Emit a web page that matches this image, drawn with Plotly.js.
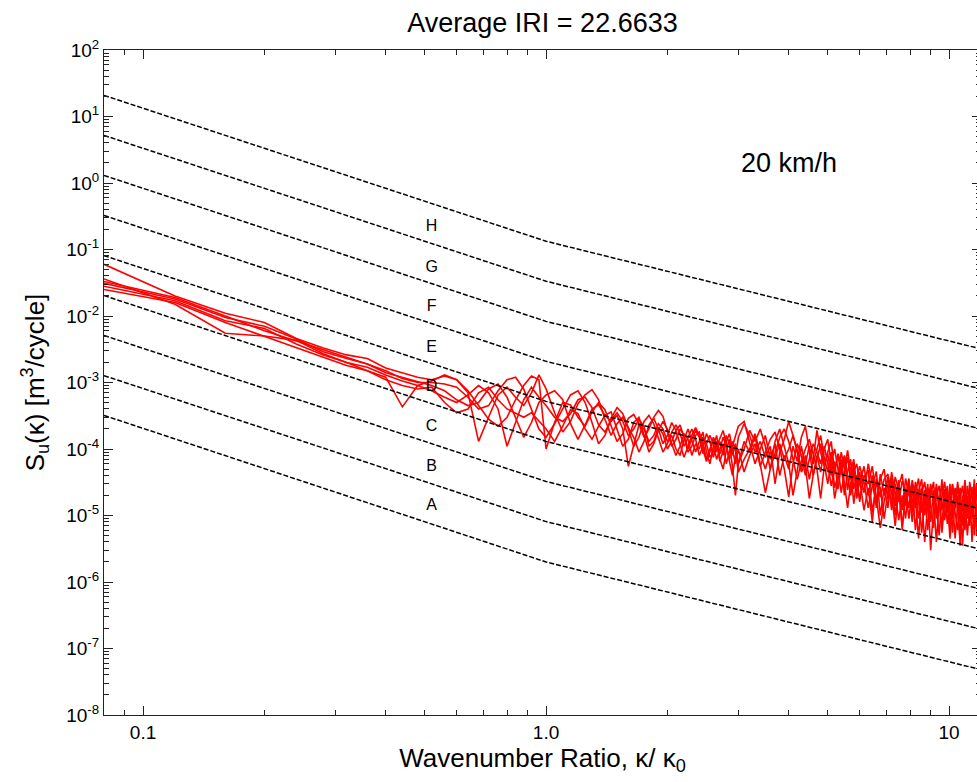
<!DOCTYPE html>
<html>
<head>
<meta charset="utf-8">
<script src="https://cdn.plot.ly/plotly-3.0.1.min.js"></script>
<style>
html,body{margin:0;padding:0;overflow:hidden;background:#fff;}
#chart{width:1001px;height:782px;}
</style>
</head>
<body>
<div id="chart"></div>
<script>
// ---------- data ----------
// wavenumber ratio grid shared by the measured spectra
const kappa = [0.08,0.12,0.16,0.20,0.24,0.28,0.32,0.36,0.40,0.44,0.48,0.52,0.56,0.60,0.64,0.68,0.72,0.76,0.80,0.84,0.88,0.92,0.96,
1.00,1.05,1.10,1.15,1.20,1.25,1.30,1.35,1.40,1.45,1.50,1.55,1.60,1.65,1.70,1.75,1.80,1.85,1.90,1.95,2.00,2.05,2.10,2.15,2.20,2.25,2.30,2.35,2.40,2.45,2.50,2.55,2.60,2.65,2.70,2.75,2.80,2.85,2.90,2.95,
3.0,3.1,3.2,3.3,3.4,3.5,3.6,3.7,3.8,3.9,4.0,4.1,4.2,4.3,4.4,4.5,4.6,4.7,4.8,4.9,5.0,5.1,5.2,5.3,5.4,5.5,5.6,5.7,5.8,5.9,
6.00,6.15,6.30,6.45,6.60,6.75,6.90,7.05,7.20,7.35,7.50,7.65,7.80,7.95,8.10,8.25,8.40,8.55,8.70,8.85,9.00,9.15,9.30,9.45,9.60,9.75,9.90,10.05,10.20,10.35,10.50,10.65,10.80,10.95,11.10,11.25,11.40,11.55,11.70,11.85,12.00];

const psd1 = [6.0e-2,2.0e-2,1.1e-2,8.0e-3,4.6e-3,3.3e-3,2.6e-3,2.3e-3,1.65e-3,1.4e-3,1.2e-3,1.1e-3,1.25e-3,1.1e-3,7.5e-4,4.5e-4,2.8e-4,2.2e-4,3.0e-4,5.5e-4,9.0e-4,1.25e-3,1.1e-3,
1.0e-4,2.5e-4,5.0e-4,4.6e-4,3.0e-4,2.2e-4,3.6e-4,5.0e-4,3.9e-4,2.2e-4,1.3e-4,1.7e-4,2.9e-4,3.3e-4,2.4e-4,1.5e-4,2.0e-4,3.0e-4,3.8e-4,3.1e-4,1.9e-4,1.1e-4,1.4e-4,2.0e-4,1.6e-4,1.0e-4,1.4e-4,1.9e-4,1.5e-4,8.5e-5,1.2e-4,1.6e-4,1.2e-4,7.0e-5,1.0e-4,1.5e-4,1.1e-4,6.5e-5,4.0e-5,7.5e-5,
1.5e-4,2.4e-4,1.6e-4,9.0e-5,1.3e-4,7.5e-5,1.1e-4,3.0e-5,9.0e-5,1.4e-4,2.6e-4,1.6e-4,9.5e-5,5.0e-5,8.0e-5,3.5e-5,7.0e-5,1.9e-4,9.0e-5,5.5e-5,8.5e-5,4.0e-5,6.5e-5,2.5e-5,5.5e-5,8.0e-5,4.0e-5,2.0e-5,4.5e-5,6.0e-5,
3.0e-5,5.5e-5,2.0e-5,4.0e-5,1.3e-5,3.5e-5,5.0e-5,1.8e-5,3.2e-5,1.0e-5,2.8e-5,4.2e-5,1.4e-5,2.6e-5,8.0e-6,2.2e-5,3.6e-5,1.1e-5,2.4e-5,6.0e-6,2.0e-5,3.2e-5,9.0e-6,1.9e-5,5.5e-6,1.6e-5,2.8e-5,8.0e-6,1.7e-5,4.5e-6,1.5e-5,2.6e-5,7.0e-6,1.6e-5,5.0e-6,1.4e-5,2.7e-5,6.5e-6,1.5e-5,4.0e-6,1.3e-5];

const psd2 = [3.6e-2,1.5e-2,5.5e-3,5.0e-3,4.3e-3,2.7e-3,2.0e-3,1.5e-3,1.2e-3,4.3e-4,9.0e-4,1.05e-3,1.3e-3,1.1e-3,7.0e-4,1.3e-4,3.0e-4,6.5e-4,8.5e-4,6.0e-4,4.5e-4,7.0e-4,1.3e-3,
8.0e-4,3.5e-4,1.8e-4,2.6e-4,4.8e-4,6.5e-4,7.8e-4,5.5e-4,2.8e-4,1.6e-4,2.4e-4,3.0e-4,2.0e-4,1.1e-4,1.5e-4,2.6e-4,3.2e-4,2.4e-4,1.4e-4,9.0e-5,1.2e-4,1.8e-4,2.3e-4,1.7e-4,1.1e-4,1.5e-4,2.0e-4,1.4e-4,8.0e-5,1.1e-4,1.7e-4,1.3e-4,7.5e-5,1.1e-4,1.5e-4,1.9e-4,1.2e-4,7.0e-5,1.1e-4,1.6e-4,
2.2e-4,2.6e-4,1.2e-4,6.0e-5,1.0e-4,1.6e-4,7.0e-5,1.2e-4,4.0e-5,8.0e-5,5.0e-5,1.1e-4,6.5e-5,1.5e-4,2.2e-4,9.0e-5,4.0e-5,7.0e-5,1.2e-4,6.0e-5,3.0e-5,6.5e-5,1.0e-4,5.0e-5,2.2e-5,4.5e-5,7.5e-5,3.5e-5,5.5e-5,2.0e-5,
4.5e-5,2.2e-5,6.0e-5,3.0e-5,1.5e-5,4.2e-5,2.0e-5,3.8e-5,1.2e-5,3.0e-5,1.6e-5,3.3e-5,2.4e-5,9.0e-6,2.5e-5,1.3e-5,2.3e-5,3.5e-5,1.0e-5,2.1e-5,1.4e-5,6.5e-6,2.0e-5,2.8e-5,1.2e-5,2.2e-5,7.5e-6,1.6e-5,2.9e-5,1.1e-5,6.0e-6,1.8e-5,2.8e-5,1.0e-5,2.0e-5,7.0e-6,1.5e-5,2.4e-5,9.0e-6,2.0e-5,3.0e-5];

const psd3 = [3.1e-2,1.8e-2,9.5e-3,7.0e-3,4.5e-3,2.9e-3,2.3e-3,1.9e-3,1.4e-3,1.2e-3,1.05e-3,9.0e-4,7.5e-4,5.5e-4,4.5e-4,5.0e-4,8.0e-4,9.5e-4,6.0e-4,3.0e-4,1.5e-4,2.5e-4,5.0e-4,
6.5e-4,7.5e-4,5.5e-4,2.4e-4,1.4e-4,2.3e-4,4.0e-4,4.6e-4,3.2e-4,2.6e-4,3.2e-4,2.0e-4,5.5e-5,1.2e-4,2.3e-4,2.0e-4,1.3e-4,1.6e-4,2.4e-4,2.0e-4,1.3e-4,1.6e-4,1.0e-4,8.0e-5,1.4e-4,2.0e-4,1.3e-4,9.0e-5,1.3e-4,1.8e-4,9.0e-5,6.0e-5,1.1e-4,1.6e-4,7.0e-5,5.0e-5,9.5e-5,1.4e-4,8.0e-5,1.2e-4,
6.0e-5,1.0e-4,1.9e-4,1.3e-4,2.0e-4,1.1e-4,5.0e-5,9.0e-5,1.5e-4,2.0e-4,1.3e-4,7.0e-5,3.5e-5,6.5e-5,1.0e-4,1.4e-4,8.0e-5,5.0e-5,1.8e-5,5.5e-5,9.0e-5,1.3e-4,4.5e-5,8.5e-5,6.0e-5,2.0e-5,4.5e-5,7.0e-5,2.5e-5,4.0e-5,
1.6e-5,3.8e-5,4.8e-5,1.1e-5,3.2e-5,1.9e-5,3.5e-5,4.2e-5,2.2e-5,7.0e-6,2.5e-5,1.2e-5,3.6e-5,2.0e-5,3.0e-5,6.0e-6,1.8e-5,2.6e-5,1.6e-5,3.0e-5,8.0e-6,2.4e-5,1.4e-5,5.0e-6,2.0e-5,3.2e-5,1.3e-5,2.3e-5,5.5e-6,1.9e-5,2.5e-5,8.0e-6,1.4e-5,3.4e-5,1.2e-5,2.5e-5,4.0e-6,1.7e-5,3.0e-5,1.1e-5,6.0e-6];

const psd4 = [2.8e-2,1.7e-2,8.5e-3,6.5e-3,3.8e-3,2.6e-3,2.0e-3,1.7e-3,1.3e-3,1.05e-3,9.0e-4,7.5e-4,6.0e-4,5.0e-4,6.5e-4,9.0e-4,7.0e-4,4.0e-4,1.1e-4,2.5e-4,5.5e-4,8.5e-4,6.0e-4,
4.5e-4,3.0e-4,2.6e-4,3.4e-4,5.5e-4,6.0e-4,4.2e-4,2.3e-4,1.8e-4,2.7e-4,3.5e-4,2.6e-4,1.6e-4,2.0e-4,2.8e-4,2.2e-4,1.1e-4,1.3e-4,2.1e-4,1.7e-4,1.0e-4,1.3e-4,1.9e-4,2.3e-4,1.5e-4,9.0e-5,1.1e-4,1.6e-4,1.8e-4,1.2e-4,7.0e-5,1.0e-4,1.4e-4,9.0e-5,1.3e-4,8.0e-5,1.3e-4,1.7e-4,1.0e-4,6.0e-5,
1.0e-4,4.5e-5,8.0e-5,1.2e-4,5.5e-5,9.0e-5,1.4e-4,1.8e-4,1.0e-4,5.0e-5,1.9e-5,6.0e-5,1.2e-4,8.0e-5,4.0e-5,7.0e-5,1.2e-4,9.0e-5,6.0e-5,1.1e-4,6.0e-5,2.8e-5,5.0e-5,8.0e-5,4.2e-5,7.5e-5,2.4e-5,5.0e-5,1.5e-5,3.5e-5,
5.5e-5,3.2e-5,1.3e-5,2.8e-5,4.6e-5,1.0e-5,2.6e-5,1.3e-5,4.5e-5,2.2e-5,8.5e-6,2.0e-5,9.0e-6,3.2e-5,1.5e-5,2.8e-5,9.0e-6,1.9e-5,4.0e-6,1.5e-5,3.0e-5,1.6e-5,2.6e-5,1.2e-5,3.5e-5,8.5e-6,1.8e-5,4.5e-6,1.3e-5,2.6e-5,1.2e-5,4.5e-6,2.0e-5,6.0e-6,2.8e-5,1.6e-5,9.0e-6,3.5e-5,5.0e-6,1.6e-5,2.2e-5];

const psd5 = [2.5e-2,1.6e-2,8.0e-3,5.0e-3,3.4e-3,2.4e-3,1.8e-3,1.5e-3,1.1e-3,9.0e-4,8.0e-4,8.5e-4,5.0e-4,3.5e-4,4.0e-4,7.0e-4,8.5e-4,5.5e-4,4.0e-4,3.5e-4,3.0e-4,3.5e-4,2.6e-4,
2.0e-4,1.3e-4,2.2e-4,3.9e-4,3.4e-4,2.0e-4,1.4e-4,2.2e-4,3.2e-4,3.6e-4,2.0e-4,1.1e-4,1.4e-4,2.5e-4,3.0e-4,1.7e-4,9.0e-5,1.2e-4,1.9e-4,2.6e-4,2.0e-4,1.2e-4,8.0e-5,1.1e-4,1.7e-4,1.4e-4,8.0e-5,1.2e-4,1.0e-4,1.5e-4,1.2e-4,7.5e-5,9.0e-5,1.3e-4,8.5e-5,1.2e-4,6.0e-5,9.0e-5,1.3e-4,9.5e-5,
4.5e-5,7.0e-5,1.0e-4,1.7e-4,8.5e-5,5.0e-5,9.0e-5,7.5e-5,1.2e-4,7.0e-5,1.0e-4,1.6e-4,9.0e-5,4.5e-5,6.0e-5,1.1e-4,6.0e-5,1.0e-4,1.6e-4,7.5e-5,4.5e-5,9.0e-5,2.6e-5,4.0e-5,9.0e-5,5.0e-5,9.5e-5,4.5e-5,7.0e-5,2.8e-5,
1.8e-5,4.0e-5,3.0e-5,5.5e-5,2.0e-5,6.5e-6,1.6e-5,3.0e-5,1.5e-5,3.8e-5,2.4e-5,7.0e-6,1.9e-5,3.6e-5,1.1e-5,3.2e-5,2.0e-5,5.5e-6,1.7e-5,2.6e-5,3.0e-6,1.3e-5,3.0e-5,1.5e-5,7.0e-6,2.5e-5,1.1e-5,3.0e-5,9.0e-6,1.4e-5,3.2e-5,1.5e-5,3.5e-6,2.2e-5,9.0e-6,3.2e-5,1.8e-5,5.0e-6,2.3e-5,3.5e-5,1.0e-5];

const psd6 = [3.3e-2,1.9e-2,1.0e-2,6.0e-3,4.2e-3,3.1e-3,2.4e-3,1.9e-3,1.5e-3,1.15e-3,1.0e-3,1.0e-3,9.5e-4,8.5e-4,6.0e-4,4.0e-4,4.5e-4,7.5e-4,1.1e-3,1.2e-3,8.0e-4,4.0e-4,2.0e-4,
1.5e-4,2.4e-4,4.0e-4,6.5e-4,7.5e-4,5.0e-4,2.5e-4,1.2e-4,1.6e-4,2.9e-4,4.2e-4,3.4e-4,2.1e-4,1.5e-4,9.0e-5,1.3e-4,2.3e-4,2.9e-4,2.0e-4,1.2e-4,1.6e-4,2.5e-4,1.9e-4,1.2e-4,7.5e-5,1.1e-4,1.6e-4,2.1e-4,1.6e-4,1.0e-4,6.5e-5,9.0e-5,1.5e-4,1.2e-4,6.5e-5,9.5e-5,1.6e-4,1.2e-4,5.5e-5,2.0e-5,
6.0e-5,1.3e-4,9.0e-5,1.6e-4,6.0e-5,2.2e-5,5.0e-5,1.3e-4,2.0e-4,1.1e-4,6.0e-5,2.0e-5,4.5e-5,1.1e-4,5.5e-5,1.8e-5,4.0e-5,8.0e-5,4.5e-5,1.0e-4,1.4e-4,6.0e-5,1.8e-5,3.5e-5,7.0e-5,3.0e-5,1.3e-5,3.0e-5,6.0e-5,1.8e-5,
3.5e-5,1.2e-5,2.6e-5,8.0e-6,3.6e-5,2.6e-5,9.0e-6,2.2e-5,3.8e-5,1.4e-5,3.4e-5,6.0e-6,2.5e-5,1.3e-5,3.4e-5,1.8e-5,4.5e-6,2.2e-5,3.2e-5,1.2e-5,2.6e-5,1.7e-5,4.0e-6,1.6e-5,3.0e-5,1.5e-5,2.4e-5,6.0e-6,3.0e-5,1.3e-5,2.0e-5,3.5e-6,1.6e-5,2.6e-5,9.0e-6,2.0e-5,1.2e-5,3.0e-5,7.0e-6,2.6e-5,1.5e-5];

// roughness class boundary lines (dashed): values at kappa = 0.08, 1 and 12
const boundaryKappa = [0.08, 1, 12];
const levelLeft  = [3.2e-4, 1.27e-3, 5.1e-3, 2.03e-2, 8.1e-2, 3.25e-1, 1.3, 5.2, 20.8];
const levelMid   = [2.0e-6, 8.1e-6, 3.25e-5, 1.3e-4, 5.2e-4, 2.08e-3, 8.3e-3, 3.33e-2, 1.33e-1];
const levelRight = [4.8e-8, 1.95e-7, 7.8e-7, 3.1e-6, 1.25e-5, 5.0e-5, 2.0e-4, 8.0e-4, 3.2e-3];

// class labels
const classNames = ['A','B','C','D','E','F','G','H'];
const classLabelKappa = 0.52;
const classLabelY = [1.40e-5, 5.4e-5, 2.16e-4, 8.65e-4, 3.33e-3, 1.37e-2, 5.3e-2, 2.15e-1];

// axis ticks
const xTickVals = [0.1, 1, 10];
const xTickText = ['0.1', '1.0', '10'];
const yTickVals = [1e-8,1e-7,1e-6,1e-5,1e-4,1e-3,1e-2,1e-1,1e0,1e1,1e2];
const yTickText = ['-8','-7','-6','-5','-4','-3','-2','-1','0','1','2'].map(function(p){return '10<sup>' + p + '</sup>';});

// minor tick positions (2..9 of every decade)
function minorTicks(lo, hi) {
  const out = [];
  for (let e = lo; e <= hi; e++) {
    for (let m = 2; m <= 9; m++) out.push(m * Math.pow(10, e));
  }
  return out;
}

// ---------- traces ----------
const FONT = '"Liberation Sans", Arial, Helvetica, sans-serif';
const traces = [];
[psd1, psd2, psd3, psd4, psd5, psd6].forEach(function(series){
  traces.push({
    type: 'scatter', mode: 'lines', x: kappa, y: series,
    line: {color: '#ff0000', width: 1.6}, hoverinfo: 'skip'
  });
});
for (let i = 0; i < levelMid.length; i++) {
  traces.push({
    type: 'scatter', mode: 'lines', x: boundaryKappa,
    y: [levelLeft[i], levelMid[i], levelRight[i]],
    line: {color: '#000', width: 1.5, dash: '5px,2px'}, hoverinfo: 'skip'
  });
}
traces.push({
  type: 'scatter', mode: 'text',
  x: classNames.map(function(){return classLabelKappa;}),
  y: classLabelY, text: classNames, textposition: 'middle center',
  textfont: {family: FONT, size: 16, color: '#000'}, hoverinfo: 'skip', cliponaxis: false
});

const axisCommon = {
  type: 'log', tickmode: 'array', ticks: 'inside', ticklen: 9, tickwidth: 1, tickcolor: '#222',
  showline: true, linecolor: '#222', linewidth: 1, mirror: 'ticks',
  showgrid: false, zeroline: false, automargin: false,
  tickfont: {family: FONT, size: 19, color: '#000'}
};

const layout = {
  width: 1001, height: 782,
  margin: {l: 104, r: 20, t: 50, b: 67, pad: 0},
  paper_bgcolor: '#fff', plot_bgcolor: '#fff',
  showlegend: false, hovermode: false,
  font: {family: FONT, color: '#000', size: 19},
  title: {text: 'Average IRI = 22.6633', font: {family: FONT, size: 27, color: '#000'},
          x: 0.5, xref: 'paper', xanchor: 'center', y: 0.971, yref: 'container', yanchor: 'middle'},
  xaxis: Object.assign({}, axisCommon, {
    range: [Math.log10(0.08), Math.log10(12)],
    tickvals: xTickVals, ticktext: xTickText,
    minor: {tickmode: 'array', tickvals: minorTicks(-2, 1), ticks: 'inside', ticklen: 5, tickwidth: 1, tickcolor: '#222', showgrid: false},
    title: {text: 'Wavenumber Ratio, κ/ κ<sub>0</sub>', font: {family: FONT, size: 26, color: '#000'}, standoff: 6}
  }),
  yaxis: Object.assign({}, axisCommon, {
    range: [-8, 2],
    tickvals: yTickVals, ticktext: yTickText,
    minor: {tickmode: 'array', tickvals: minorTicks(-8, 1), ticks: 'inside', ticklen: 5, tickwidth: 1, tickcolor: '#222', showgrid: false},
    title: {text: 'S<sub>u</sub>(κ) [m<sup>3</sup>/cycle]', font: {family: FONT, size: 26, color: '#000'}, standoff: 14}
  }),
  annotations: [{
    text: '20 km/h', xref: 'paper', yref: 'paper', x: 0.781, y: 0.830,
    xanchor: 'center', yanchor: 'middle', showarrow: false,
    font: {family: FONT, size: 27, color: '#000'}
  }]
};

Plotly.newPlot('chart', traces, layout, {staticPlot: true, displayModeBar: false});
</script>
</body>
</html>
